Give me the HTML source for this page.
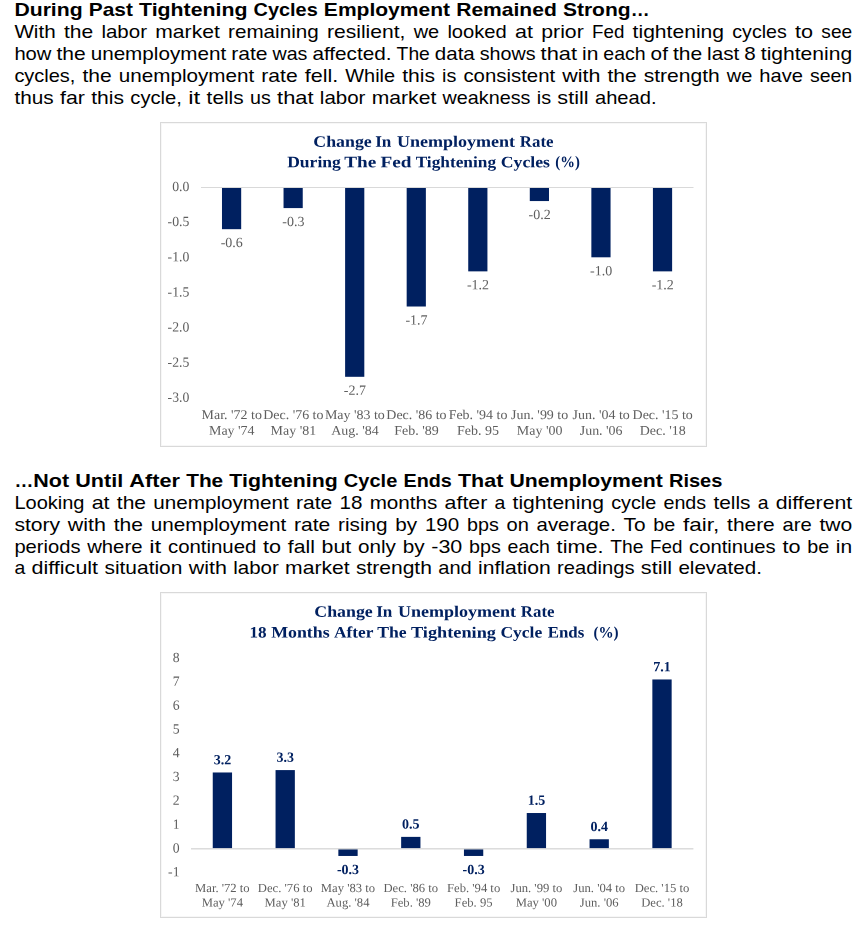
<!DOCTYPE html>
<html><head><meta charset="utf-8"><title>Unemployment and Fed tightening cycles</title>
<style>
html,body{margin:0;padding:0;background:#fff;}
body{width:868px;height:925px;overflow:hidden;font-family:"Liberation Sans",sans-serif;}
svg{display:block;position:absolute;left:0;top:0;}
#charts{will-change:transform;}
text{white-space:pre;}
.s,.sb{font-family:"Liberation Sans",sans-serif;}
.r,.rb{font-family:"Liberation Serif",serif;}
.sb,.rb{font-weight:bold;}
</style></head><body>
<svg width="868" height="925" viewBox="0 0 868 925">
<rect width="868" height="925" fill="#fff"/>
<text class="sb" x="14.40" y="16.30" font-size="18.5" fill="#000" textLength="68.26" lengthAdjust="spacingAndGlyphs">During</text>
<text class="sb" x="88.81" y="16.30" font-size="18.5" fill="#000" textLength="44.10" lengthAdjust="spacingAndGlyphs">Past</text>
<text class="sb" x="139.07" y="16.30" font-size="18.5" fill="#000" textLength="108.36" lengthAdjust="spacingAndGlyphs">Tightening</text>
<text class="sb" x="253.58" y="16.30" font-size="18.5" fill="#000" textLength="64.12" lengthAdjust="spacingAndGlyphs">Cycles</text>
<text class="sb" x="323.86" y="16.30" font-size="18.5" fill="#000" textLength="126.18" lengthAdjust="spacingAndGlyphs">Employment</text>
<text class="sb" x="456.19" y="16.30" font-size="18.5" fill="#000" textLength="100.60" lengthAdjust="spacingAndGlyphs">Remained</text>
<text class="sb" x="562.95" y="16.30" font-size="18.5" fill="#000" textLength="67.70" lengthAdjust="spacingAndGlyphs">Strong</text>
<text class="sb" x="630.65" y="16.30" font-size="18.5" fill="#000" textLength="18.86" lengthAdjust="spacingAndGlyphs">…</text>
<text class="s" x="14.40" y="38.30" font-size="18.5" fill="#000" textLength="41.22" lengthAdjust="spacingAndGlyphs">With</text>
<text class="s" x="63.92" y="38.30" font-size="18.5" fill="#000" textLength="29.21" lengthAdjust="spacingAndGlyphs">the</text>
<text class="s" x="101.43" y="38.30" font-size="18.5" fill="#000" textLength="45.58" lengthAdjust="spacingAndGlyphs">labor</text>
<text class="s" x="155.30" y="38.30" font-size="18.5" fill="#000" textLength="64.49" lengthAdjust="spacingAndGlyphs">market</text>
<text class="s" x="228.09" y="38.30" font-size="18.5" fill="#000" textLength="90.61" lengthAdjust="spacingAndGlyphs">remaining</text>
<text class="s" x="327.00" y="38.30" font-size="18.5" fill="#000" textLength="78.35" lengthAdjust="spacingAndGlyphs">resilient,</text>
<text class="s" x="413.65" y="38.30" font-size="18.5" fill="#000" textLength="25.45" lengthAdjust="spacingAndGlyphs">we</text>
<text class="s" x="447.40" y="38.30" font-size="18.5" fill="#000" textLength="59.38" lengthAdjust="spacingAndGlyphs">looked</text>
<text class="s" x="515.08" y="38.30" font-size="18.5" fill="#000" textLength="17.91" lengthAdjust="spacingAndGlyphs">at</text>
<text class="s" x="541.29" y="38.30" font-size="18.5" fill="#000" textLength="42.44" lengthAdjust="spacingAndGlyphs">prior</text>
<text class="s" x="592.03" y="38.30" font-size="18.5" fill="#000" textLength="32.29" lengthAdjust="spacingAndGlyphs">Fed</text>
<text class="s" x="632.62" y="38.30" font-size="18.5" fill="#000" textLength="91.39" lengthAdjust="spacingAndGlyphs">tightening</text>
<text class="s" x="732.30" y="38.30" font-size="18.5" fill="#000" textLength="54.45" lengthAdjust="spacingAndGlyphs">cycles</text>
<text class="s" x="795.05" y="38.30" font-size="18.5" fill="#000" textLength="18.02" lengthAdjust="spacingAndGlyphs">to</text>
<text class="s" x="821.37" y="38.30" font-size="18.5" fill="#000" textLength="30.83" lengthAdjust="spacingAndGlyphs">see</text>
<text class="s" x="14.40" y="60.00" font-size="18.5" fill="#000" textLength="37.04" lengthAdjust="spacingAndGlyphs">how</text>
<text class="s" x="56.45" y="60.00" font-size="18.5" fill="#000" textLength="29.21" lengthAdjust="spacingAndGlyphs">the</text>
<text class="s" x="90.67" y="60.00" font-size="18.5" fill="#000" textLength="135.49" lengthAdjust="spacingAndGlyphs">unemployment</text>
<text class="s" x="231.16" y="60.00" font-size="18.5" fill="#000" textLength="36.32" lengthAdjust="spacingAndGlyphs">rate</text>
<text class="s" x="272.50" y="60.00" font-size="18.5" fill="#000" textLength="34.92" lengthAdjust="spacingAndGlyphs">was</text>
<text class="s" x="312.42" y="60.00" font-size="18.5" fill="#000" textLength="79.18" lengthAdjust="spacingAndGlyphs">affected.</text>
<text class="s" x="396.61" y="60.00" font-size="18.5" fill="#000" textLength="33.21" lengthAdjust="spacingAndGlyphs">The</text>
<text class="s" x="434.83" y="60.00" font-size="18.5" fill="#000" textLength="39.94" lengthAdjust="spacingAndGlyphs">data</text>
<text class="s" x="479.78" y="60.00" font-size="18.5" fill="#000" textLength="55.80" lengthAdjust="spacingAndGlyphs">shows</text>
<text class="s" x="540.58" y="60.00" font-size="18.5" fill="#000" textLength="36.40" lengthAdjust="spacingAndGlyphs">that</text>
<text class="s" x="581.99" y="60.00" font-size="18.5" fill="#000" textLength="16.33" lengthAdjust="spacingAndGlyphs">in</text>
<text class="s" x="603.32" y="60.00" font-size="18.5" fill="#000" textLength="42.32" lengthAdjust="spacingAndGlyphs">each</text>
<text class="s" x="650.64" y="60.00" font-size="18.5" fill="#000" textLength="17.26" lengthAdjust="spacingAndGlyphs">of</text>
<text class="s" x="672.91" y="60.00" font-size="18.5" fill="#000" textLength="29.21" lengthAdjust="spacingAndGlyphs">the</text>
<text class="s" x="707.13" y="60.00" font-size="18.5" fill="#000" textLength="32.22" lengthAdjust="spacingAndGlyphs">last</text>
<text class="s" x="744.36" y="60.00" font-size="18.5" fill="#000" textLength="11.45" lengthAdjust="spacingAndGlyphs">8</text>
<text class="s" x="760.81" y="60.00" font-size="18.5" fill="#000" textLength="91.39" lengthAdjust="spacingAndGlyphs">tightening</text>
<text class="s" x="14.40" y="81.80" font-size="18.5" fill="#000" textLength="61.00" lengthAdjust="spacingAndGlyphs">cycles,</text>
<text class="s" x="82.48" y="81.80" font-size="18.5" fill="#000" textLength="29.21" lengthAdjust="spacingAndGlyphs">the</text>
<text class="s" x="118.77" y="81.80" font-size="18.5" fill="#000" textLength="135.49" lengthAdjust="spacingAndGlyphs">unemployment</text>
<text class="s" x="261.34" y="81.80" font-size="18.5" fill="#000" textLength="36.32" lengthAdjust="spacingAndGlyphs">rate</text>
<text class="s" x="304.74" y="81.80" font-size="18.5" fill="#000" textLength="33.48" lengthAdjust="spacingAndGlyphs">fell.</text>
<text class="s" x="345.30" y="81.80" font-size="18.5" fill="#000" textLength="49.79" lengthAdjust="spacingAndGlyphs">While</text>
<text class="s" x="402.16" y="81.80" font-size="18.5" fill="#000" textLength="32.80" lengthAdjust="spacingAndGlyphs">this</text>
<text class="s" x="442.04" y="81.80" font-size="18.5" fill="#000" textLength="14.31" lengthAdjust="spacingAndGlyphs">is</text>
<text class="s" x="463.43" y="81.80" font-size="18.5" fill="#000" textLength="91.69" lengthAdjust="spacingAndGlyphs">consistent</text>
<text class="s" x="562.20" y="81.80" font-size="18.5" fill="#000" textLength="38.14" lengthAdjust="spacingAndGlyphs">with</text>
<text class="s" x="607.42" y="81.80" font-size="18.5" fill="#000" textLength="29.21" lengthAdjust="spacingAndGlyphs">the</text>
<text class="s" x="643.71" y="81.80" font-size="18.5" fill="#000" textLength="75.98" lengthAdjust="spacingAndGlyphs">strength</text>
<text class="s" x="726.77" y="81.80" font-size="18.5" fill="#000" textLength="25.45" lengthAdjust="spacingAndGlyphs">we</text>
<text class="s" x="759.30" y="81.80" font-size="18.5" fill="#000" textLength="43.60" lengthAdjust="spacingAndGlyphs">have</text>
<text class="s" x="809.97" y="81.80" font-size="18.5" fill="#000" textLength="42.23" lengthAdjust="spacingAndGlyphs">seen</text>
<text class="s" x="14.40" y="103.50" font-size="18.5" fill="#000" textLength="39.26" lengthAdjust="spacingAndGlyphs">thus</text>
<text class="s" x="59.99" y="103.50" font-size="18.5" fill="#000" textLength="24.84" lengthAdjust="spacingAndGlyphs">far</text>
<text class="s" x="91.17" y="103.50" font-size="18.5" fill="#000" textLength="32.80" lengthAdjust="spacingAndGlyphs">this</text>
<text class="s" x="130.30" y="103.50" font-size="18.5" fill="#000" textLength="51.62" lengthAdjust="spacingAndGlyphs">cycle,</text>
<text class="s" x="188.26" y="103.50" font-size="18.5" fill="#000" textLength="12.02" lengthAdjust="spacingAndGlyphs">it</text>
<text class="s" x="206.62" y="103.50" font-size="18.5" fill="#000" textLength="37.06" lengthAdjust="spacingAndGlyphs">tells</text>
<text class="s" x="250.02" y="103.50" font-size="18.5" fill="#000" textLength="20.77" lengthAdjust="spacingAndGlyphs">us</text>
<text class="s" x="277.13" y="103.50" font-size="18.5" fill="#000" textLength="36.40" lengthAdjust="spacingAndGlyphs">that</text>
<text class="s" x="319.86" y="103.50" font-size="18.5" fill="#000" textLength="45.58" lengthAdjust="spacingAndGlyphs">labor</text>
<text class="s" x="371.77" y="103.50" font-size="18.5" fill="#000" textLength="64.49" lengthAdjust="spacingAndGlyphs">market</text>
<text class="s" x="442.60" y="103.50" font-size="18.5" fill="#000" textLength="87.80" lengthAdjust="spacingAndGlyphs">weakness</text>
<text class="s" x="536.74" y="103.50" font-size="18.5" fill="#000" textLength="14.31" lengthAdjust="spacingAndGlyphs">is</text>
<text class="s" x="557.39" y="103.50" font-size="18.5" fill="#000" textLength="31.27" lengthAdjust="spacingAndGlyphs">still</text>
<text class="s" x="594.99" y="103.50" font-size="18.5" fill="#000" textLength="61.52" lengthAdjust="spacingAndGlyphs">ahead.</text>
<text class="sb" x="14.40" y="486.80" font-size="18.5" fill="#000" textLength="18.86" lengthAdjust="spacingAndGlyphs">…</text>
<text class="sb" x="33.26" y="486.80" font-size="18.5" fill="#000" textLength="35.82" lengthAdjust="spacingAndGlyphs">Not</text>
<text class="sb" x="75.24" y="486.80" font-size="18.5" fill="#000" textLength="47.95" lengthAdjust="spacingAndGlyphs">Until</text>
<text class="sb" x="129.35" y="486.80" font-size="18.5" fill="#000" textLength="50.67" lengthAdjust="spacingAndGlyphs">After</text>
<text class="sb" x="186.17" y="486.80" font-size="18.5" fill="#000" textLength="37.04" lengthAdjust="spacingAndGlyphs">The</text>
<text class="sb" x="229.37" y="486.80" font-size="18.5" fill="#000" textLength="108.36" lengthAdjust="spacingAndGlyphs">Tightening</text>
<text class="sb" x="343.89" y="486.80" font-size="18.5" fill="#000" textLength="53.44" lengthAdjust="spacingAndGlyphs">Cycle</text>
<text class="sb" x="403.49" y="486.80" font-size="18.5" fill="#000" textLength="48.37" lengthAdjust="spacingAndGlyphs">Ends</text>
<text class="sb" x="458.01" y="486.80" font-size="18.5" fill="#000" textLength="45.32" lengthAdjust="spacingAndGlyphs">That</text>
<text class="sb" x="509.49" y="486.80" font-size="18.5" fill="#000" textLength="153.27" lengthAdjust="spacingAndGlyphs">Unemployment</text>
<text class="sb" x="668.92" y="486.80" font-size="18.5" fill="#000" textLength="53.53" lengthAdjust="spacingAndGlyphs">Rises</text>
<text class="s" x="14.40" y="509.00" font-size="18.5" fill="#000" textLength="70.07" lengthAdjust="spacingAndGlyphs">Looking</text>
<text class="s" x="91.70" y="509.00" font-size="18.5" fill="#000" textLength="17.91" lengthAdjust="spacingAndGlyphs">at</text>
<text class="s" x="116.84" y="509.00" font-size="18.5" fill="#000" textLength="29.21" lengthAdjust="spacingAndGlyphs">the</text>
<text class="s" x="153.29" y="509.00" font-size="18.5" fill="#000" textLength="135.49" lengthAdjust="spacingAndGlyphs">unemployment</text>
<text class="s" x="296.00" y="509.00" font-size="18.5" fill="#000" textLength="36.32" lengthAdjust="spacingAndGlyphs">rate</text>
<text class="s" x="339.56" y="509.00" font-size="18.5" fill="#000" textLength="22.90" lengthAdjust="spacingAndGlyphs">18</text>
<text class="s" x="369.68" y="509.00" font-size="18.5" fill="#000" textLength="67.70" lengthAdjust="spacingAndGlyphs">months</text>
<text class="s" x="444.61" y="509.00" font-size="18.5" fill="#000" textLength="42.66" lengthAdjust="spacingAndGlyphs">after</text>
<text class="s" x="494.50" y="509.00" font-size="18.5" fill="#000" textLength="10.82" lengthAdjust="spacingAndGlyphs">a</text>
<text class="s" x="512.55" y="509.00" font-size="18.5" fill="#000" textLength="91.39" lengthAdjust="spacingAndGlyphs">tightening</text>
<text class="s" x="611.17" y="509.00" font-size="18.5" fill="#000" textLength="45.07" lengthAdjust="spacingAndGlyphs">cycle</text>
<text class="s" x="663.47" y="509.00" font-size="18.5" fill="#000" textLength="42.71" lengthAdjust="spacingAndGlyphs">ends</text>
<text class="s" x="713.41" y="509.00" font-size="18.5" fill="#000" textLength="37.06" lengthAdjust="spacingAndGlyphs">tells</text>
<text class="s" x="757.71" y="509.00" font-size="18.5" fill="#000" textLength="10.82" lengthAdjust="spacingAndGlyphs">a</text>
<text class="s" x="775.75" y="509.00" font-size="18.5" fill="#000" textLength="76.45" lengthAdjust="spacingAndGlyphs">different</text>
<text class="s" x="14.40" y="530.80" font-size="18.5" fill="#000" textLength="45.74" lengthAdjust="spacingAndGlyphs">story</text>
<text class="s" x="67.88" y="530.80" font-size="18.5" fill="#000" textLength="38.14" lengthAdjust="spacingAndGlyphs">with</text>
<text class="s" x="113.77" y="530.80" font-size="18.5" fill="#000" textLength="29.21" lengthAdjust="spacingAndGlyphs">the</text>
<text class="s" x="150.73" y="530.80" font-size="18.5" fill="#000" textLength="135.49" lengthAdjust="spacingAndGlyphs">unemployment</text>
<text class="s" x="293.96" y="530.80" font-size="18.5" fill="#000" textLength="36.32" lengthAdjust="spacingAndGlyphs">rate</text>
<text class="s" x="338.03" y="530.80" font-size="18.5" fill="#000" textLength="49.54" lengthAdjust="spacingAndGlyphs">rising</text>
<text class="s" x="395.32" y="530.80" font-size="18.5" fill="#000" textLength="21.87" lengthAdjust="spacingAndGlyphs">by</text>
<text class="s" x="424.93" y="530.80" font-size="18.5" fill="#000" textLength="34.34" lengthAdjust="spacingAndGlyphs">190</text>
<text class="s" x="467.02" y="530.80" font-size="18.5" fill="#000" textLength="31.81" lengthAdjust="spacingAndGlyphs">bps</text>
<text class="s" x="506.58" y="530.80" font-size="18.5" fill="#000" textLength="22.32" lengthAdjust="spacingAndGlyphs">on</text>
<text class="s" x="536.64" y="530.80" font-size="18.5" fill="#000" textLength="79.20" lengthAdjust="spacingAndGlyphs">average.</text>
<text class="s" x="623.59" y="530.80" font-size="18.5" fill="#000" textLength="22.01" lengthAdjust="spacingAndGlyphs">To</text>
<text class="s" x="653.35" y="530.80" font-size="18.5" fill="#000" textLength="21.94" lengthAdjust="spacingAndGlyphs">be</text>
<text class="s" x="683.04" y="530.80" font-size="18.5" fill="#000" textLength="36.32" lengthAdjust="spacingAndGlyphs">fair,</text>
<text class="s" x="727.11" y="530.80" font-size="18.5" fill="#000" textLength="47.63" lengthAdjust="spacingAndGlyphs">there</text>
<text class="s" x="782.48" y="530.80" font-size="18.5" fill="#000" textLength="29.23" lengthAdjust="spacingAndGlyphs">are</text>
<text class="s" x="819.46" y="530.80" font-size="18.5" fill="#000" textLength="32.74" lengthAdjust="spacingAndGlyphs">two</text>
<text class="s" x="14.40" y="552.50" font-size="18.5" fill="#000" textLength="66.08" lengthAdjust="spacingAndGlyphs">periods</text>
<text class="s" x="87.20" y="552.50" font-size="18.5" fill="#000" textLength="55.26" lengthAdjust="spacingAndGlyphs">where</text>
<text class="s" x="149.19" y="552.50" font-size="18.5" fill="#000" textLength="12.02" lengthAdjust="spacingAndGlyphs">it</text>
<text class="s" x="167.94" y="552.50" font-size="18.5" fill="#000" textLength="88.45" lengthAdjust="spacingAndGlyphs">continued</text>
<text class="s" x="263.12" y="552.50" font-size="18.5" fill="#000" textLength="18.02" lengthAdjust="spacingAndGlyphs">to</text>
<text class="s" x="287.86" y="552.50" font-size="18.5" fill="#000" textLength="27.02" lengthAdjust="spacingAndGlyphs">fall</text>
<text class="s" x="321.60" y="552.50" font-size="18.5" fill="#000" textLength="29.70" lengthAdjust="spacingAndGlyphs">but</text>
<text class="s" x="358.03" y="552.50" font-size="18.5" fill="#000" textLength="37.91" lengthAdjust="spacingAndGlyphs">only</text>
<text class="s" x="402.66" y="552.50" font-size="18.5" fill="#000" textLength="21.87" lengthAdjust="spacingAndGlyphs">by</text>
<text class="s" x="431.26" y="552.50" font-size="18.5" fill="#000" textLength="31.07" lengthAdjust="spacingAndGlyphs">-30</text>
<text class="s" x="469.05" y="552.50" font-size="18.5" fill="#000" textLength="31.81" lengthAdjust="spacingAndGlyphs">bps</text>
<text class="s" x="507.58" y="552.50" font-size="18.5" fill="#000" textLength="42.32" lengthAdjust="spacingAndGlyphs">each</text>
<text class="s" x="556.63" y="552.50" font-size="18.5" fill="#000" textLength="46.82" lengthAdjust="spacingAndGlyphs">time.</text>
<text class="s" x="610.17" y="552.50" font-size="18.5" fill="#000" textLength="33.21" lengthAdjust="spacingAndGlyphs">The</text>
<text class="s" x="650.10" y="552.50" font-size="18.5" fill="#000" textLength="32.29" lengthAdjust="spacingAndGlyphs">Fed</text>
<text class="s" x="689.12" y="552.50" font-size="18.5" fill="#000" textLength="86.62" lengthAdjust="spacingAndGlyphs">continues</text>
<text class="s" x="782.46" y="552.50" font-size="18.5" fill="#000" textLength="18.02" lengthAdjust="spacingAndGlyphs">to</text>
<text class="s" x="807.21" y="552.50" font-size="18.5" fill="#000" textLength="21.94" lengthAdjust="spacingAndGlyphs">be</text>
<text class="s" x="835.87" y="552.50" font-size="18.5" fill="#000" textLength="16.33" lengthAdjust="spacingAndGlyphs">in</text>
<text class="s" x="14.40" y="574.30" font-size="18.5" fill="#000" textLength="10.82" lengthAdjust="spacingAndGlyphs">a</text>
<text class="s" x="31.55" y="574.30" font-size="18.5" fill="#000" textLength="66.55" lengthAdjust="spacingAndGlyphs">difficult</text>
<text class="s" x="104.44" y="574.30" font-size="18.5" fill="#000" textLength="77.96" lengthAdjust="spacingAndGlyphs">situation</text>
<text class="s" x="188.73" y="574.30" font-size="18.5" fill="#000" textLength="38.14" lengthAdjust="spacingAndGlyphs">with</text>
<text class="s" x="233.21" y="574.30" font-size="18.5" fill="#000" textLength="45.58" lengthAdjust="spacingAndGlyphs">labor</text>
<text class="s" x="285.12" y="574.30" font-size="18.5" fill="#000" textLength="64.49" lengthAdjust="spacingAndGlyphs">market</text>
<text class="s" x="355.95" y="574.30" font-size="18.5" fill="#000" textLength="75.98" lengthAdjust="spacingAndGlyphs">strength</text>
<text class="s" x="438.26" y="574.30" font-size="18.5" fill="#000" textLength="33.43" lengthAdjust="spacingAndGlyphs">and</text>
<text class="s" x="478.03" y="574.30" font-size="18.5" fill="#000" textLength="72.76" lengthAdjust="spacingAndGlyphs">inflation</text>
<text class="s" x="557.12" y="574.30" font-size="18.5" fill="#000" textLength="77.36" lengthAdjust="spacingAndGlyphs">readings</text>
<text class="s" x="640.82" y="574.30" font-size="18.5" fill="#000" textLength="31.27" lengthAdjust="spacingAndGlyphs">still</text>
<text class="s" x="678.42" y="574.30" font-size="18.5" fill="#000" textLength="83.45" lengthAdjust="spacingAndGlyphs">elevated.</text>
</svg>
<svg id="charts" width="868" height="925" viewBox="0 0 868 925">
<rect x="160.5" y="122.5" width="546" height="324" fill="#fff" stroke="#d9d9d9" stroke-width="1"/>
<rect x="161.5" y="123.5" width="544" height="322" fill="none" stroke="#f7f7f7" stroke-width="1"/>
<text class="rb" x="313.35" y="146.80" font-size="15.9" fill="#002060" transform="rotate(0.03 313.35 146.80)" textLength="58.40" lengthAdjust="spacingAndGlyphs">Change</text>
<text class="rb" x="375.15" y="146.80" font-size="15.9" fill="#002060" transform="rotate(0.03 375.15 146.80)" textLength="16.20" lengthAdjust="spacingAndGlyphs">In</text>
<text class="rb" x="396.95" y="146.80" font-size="15.9" fill="#002060" transform="rotate(0.03 396.95 146.80)" textLength="118.20" lengthAdjust="spacingAndGlyphs">Unemployment</text>
<text class="rb" x="519.85" y="146.80" font-size="15.9" fill="#002060" transform="rotate(0.03 519.85 146.80)" textLength="33.70" lengthAdjust="spacingAndGlyphs">Rate</text>
<text class="rb" x="287.15" y="167.20" font-size="15.9" fill="#002060" transform="rotate(0.03 287.15 167.20)" textLength="53.70" lengthAdjust="spacingAndGlyphs">During</text>
<text class="rb" x="344.25" y="167.20" font-size="15.9" fill="#002060" transform="rotate(0.03 344.25 167.20)" textLength="32.00" lengthAdjust="spacingAndGlyphs">The</text>
<text class="rb" x="380.55" y="167.20" font-size="15.9" fill="#002060" transform="rotate(0.03 380.55 167.20)" textLength="31.00" lengthAdjust="spacingAndGlyphs">Fed</text>
<text class="rb" x="415.65" y="167.20" font-size="15.9" fill="#002060" transform="rotate(0.03 415.65 167.20)" textLength="80.40" lengthAdjust="spacingAndGlyphs">Tightening</text>
<text class="rb" x="500.75" y="167.20" font-size="15.9" fill="#002060" transform="rotate(0.03 500.75 167.20)" textLength="49.20" lengthAdjust="spacingAndGlyphs">Cycles</text>
<text class="rb" x="555.30" y="167.20" font-size="15.9" fill="#002060" transform="rotate(0.03 555.30 167.20)" textLength="24.50" lengthAdjust="spacingAndGlyphs">(%)</text>
<rect x="201.00" y="187.00" width="492.50" height="1.00" fill="#d9d9d9"/>
<rect x="221.98" y="188.00" width="19.20" height="41.18" fill="#002060"/>
<text class="r" x="220.70" y="247.08" font-size="14" fill="#5e5e5e" transform="rotate(0.03 220.70 247.08)" textLength="22.16" lengthAdjust="spacingAndGlyphs">-0.6</text>
<text class="r" x="201.63" y="418.90" font-size="13.3" fill="#5e5e5e" transform="rotate(0.03 201.63 418.90)" textLength="60.31" lengthAdjust="spacingAndGlyphs">Mar. &#x27;72 to</text>
<text class="r" x="209.00" y="434.80" font-size="13.3" fill="#5e5e5e" transform="rotate(0.03 209.00 434.80)" textLength="45.57" lengthAdjust="spacingAndGlyphs">May &#x27;74</text>
<rect x="283.54" y="188.00" width="19.20" height="20.09" fill="#002060"/>
<text class="r" x="282.26" y="225.99" font-size="14" fill="#5e5e5e" transform="rotate(0.03 282.26 225.99)" textLength="22.16" lengthAdjust="spacingAndGlyphs">-0.3</text>
<text class="r" x="263.19" y="418.90" font-size="13.3" fill="#5e5e5e" transform="rotate(0.03 263.19 418.90)" textLength="60.30" lengthAdjust="spacingAndGlyphs">Dec. &#x27;76 to</text>
<text class="r" x="270.56" y="434.80" font-size="13.3" fill="#5e5e5e" transform="rotate(0.03 270.56 434.80)" textLength="45.57" lengthAdjust="spacingAndGlyphs">May &#x27;81</text>
<rect x="345.11" y="188.00" width="19.20" height="188.81" fill="#002060"/>
<text class="r" x="343.82" y="394.71" font-size="14" fill="#5e5e5e" transform="rotate(0.03 343.82 394.71)" textLength="22.16" lengthAdjust="spacingAndGlyphs">-2.7</text>
<text class="r" x="324.94" y="418.90" font-size="13.3" fill="#5e5e5e" transform="rotate(0.03 324.94 418.90)" textLength="59.92" lengthAdjust="spacingAndGlyphs">May &#x27;83 to</text>
<text class="r" x="331.15" y="434.80" font-size="13.3" fill="#5e5e5e" transform="rotate(0.03 331.15 434.80)" textLength="47.51" lengthAdjust="spacingAndGlyphs">Aug. &#x27;84</text>
<rect x="406.67" y="188.00" width="19.20" height="118.51" fill="#002060"/>
<text class="r" x="405.39" y="324.41" font-size="14" fill="#5e5e5e" transform="rotate(0.03 405.39 324.41)" textLength="22.16" lengthAdjust="spacingAndGlyphs">-1.7</text>
<text class="r" x="386.32" y="418.90" font-size="13.3" fill="#5e5e5e" transform="rotate(0.03 386.32 418.90)" textLength="60.30" lengthAdjust="spacingAndGlyphs">Dec. &#x27;86 to</text>
<text class="r" x="394.26" y="434.80" font-size="13.3" fill="#5e5e5e" transform="rotate(0.03 394.26 434.80)" textLength="44.41" lengthAdjust="spacingAndGlyphs">Feb. &#x27;89</text>
<rect x="468.23" y="188.00" width="19.20" height="83.36" fill="#002060"/>
<text class="r" x="466.95" y="289.26" font-size="14" fill="#5e5e5e" transform="rotate(0.03 466.95 289.26)" textLength="22.16" lengthAdjust="spacingAndGlyphs">-1.2</text>
<text class="r" x="448.65" y="418.90" font-size="13.3" fill="#5e5e5e" transform="rotate(0.03 448.65 418.90)" textLength="58.76" lengthAdjust="spacingAndGlyphs">Feb. &#x27;94 to</text>
<text class="r" x="457.08" y="434.80" font-size="13.3" fill="#5e5e5e" transform="rotate(0.03 457.08 434.80)" textLength="41.90" lengthAdjust="spacingAndGlyphs">Feb. 95</text>
<rect x="529.79" y="188.00" width="19.20" height="13.06" fill="#002060"/>
<text class="r" x="528.51" y="218.96" font-size="14" fill="#5e5e5e" transform="rotate(0.03 528.51 218.96)" textLength="22.16" lengthAdjust="spacingAndGlyphs">-0.2</text>
<text class="r" x="510.99" y="418.90" font-size="13.3" fill="#5e5e5e" transform="rotate(0.03 510.99 418.90)" textLength="57.22" lengthAdjust="spacingAndGlyphs">Jun. &#x27;99 to</text>
<text class="r" x="516.81" y="434.80" font-size="13.3" fill="#5e5e5e" transform="rotate(0.03 516.81 434.80)" textLength="45.57" lengthAdjust="spacingAndGlyphs">May &#x27;00</text>
<rect x="591.36" y="188.00" width="19.20" height="69.30" fill="#002060"/>
<text class="r" x="590.07" y="275.20" font-size="14" fill="#5e5e5e" transform="rotate(0.03 590.07 275.20)" textLength="22.16" lengthAdjust="spacingAndGlyphs">-1.0</text>
<text class="r" x="572.55" y="418.90" font-size="13.3" fill="#5e5e5e" transform="rotate(0.03 572.55 418.90)" textLength="57.22" lengthAdjust="spacingAndGlyphs">Jun. &#x27;04 to</text>
<text class="r" x="579.72" y="434.80" font-size="13.3" fill="#5e5e5e" transform="rotate(0.03 579.72 434.80)" textLength="42.86" lengthAdjust="spacingAndGlyphs">Jun. &#x27;06</text>
<rect x="652.92" y="188.00" width="19.20" height="83.36" fill="#002060"/>
<text class="r" x="651.64" y="289.26" font-size="14" fill="#5e5e5e" transform="rotate(0.03 651.64 289.26)" textLength="22.16" lengthAdjust="spacingAndGlyphs">-1.2</text>
<text class="r" x="632.57" y="418.90" font-size="13.3" fill="#5e5e5e" transform="rotate(0.03 632.57 418.90)" textLength="60.30" lengthAdjust="spacingAndGlyphs">Dec. &#x27;15 to</text>
<text class="r" x="639.75" y="434.80" font-size="13.3" fill="#5e5e5e" transform="rotate(0.03 639.75 434.80)" textLength="45.94" lengthAdjust="spacingAndGlyphs">Dec. &#x27;18</text>
<text class="r" x="172.15" y="190.95" font-size="14" fill="#5e5e5e" transform="rotate(0.03 172.15 190.95)" textLength="17.15" lengthAdjust="spacingAndGlyphs">0.0</text>
<text class="r" x="167.58" y="226.10" font-size="14" fill="#5e5e5e" transform="rotate(0.03 167.58 226.10)" textLength="21.72" lengthAdjust="spacingAndGlyphs">-0.5</text>
<text class="r" x="167.58" y="261.25" font-size="14" fill="#5e5e5e" transform="rotate(0.03 167.58 261.25)" textLength="21.72" lengthAdjust="spacingAndGlyphs">-1.0</text>
<text class="r" x="167.58" y="296.40" font-size="14" fill="#5e5e5e" transform="rotate(0.03 167.58 296.40)" textLength="21.72" lengthAdjust="spacingAndGlyphs">-1.5</text>
<text class="r" x="167.58" y="331.55" font-size="14" fill="#5e5e5e" transform="rotate(0.03 167.58 331.55)" textLength="21.72" lengthAdjust="spacingAndGlyphs">-2.0</text>
<text class="r" x="167.58" y="366.70" font-size="14" fill="#5e5e5e" transform="rotate(0.03 167.58 366.70)" textLength="21.72" lengthAdjust="spacingAndGlyphs">-2.5</text>
<text class="r" x="167.58" y="401.85" font-size="14" fill="#5e5e5e" transform="rotate(0.03 167.58 401.85)" textLength="21.72" lengthAdjust="spacingAndGlyphs">-3.0</text>
<rect x="160.5" y="592.5" width="546" height="325" fill="#fff" stroke="#d9d9d9" stroke-width="1"/>
<rect x="161.5" y="593.5" width="544" height="323" fill="none" stroke="#f7f7f7" stroke-width="1"/>
<text class="rb" x="314.35" y="616.80" font-size="15.9" fill="#002060" transform="rotate(0.03 314.35 616.80)" textLength="58.40" lengthAdjust="spacingAndGlyphs">Change</text>
<text class="rb" x="376.15" y="616.80" font-size="15.9" fill="#002060" transform="rotate(0.03 376.15 616.80)" textLength="16.20" lengthAdjust="spacingAndGlyphs">In</text>
<text class="rb" x="397.95" y="616.80" font-size="15.9" fill="#002060" transform="rotate(0.03 397.95 616.80)" textLength="118.20" lengthAdjust="spacingAndGlyphs">Unemployment</text>
<text class="rb" x="520.85" y="616.80" font-size="15.9" fill="#002060" transform="rotate(0.03 520.85 616.80)" textLength="33.70" lengthAdjust="spacingAndGlyphs">Rate</text>
<text class="rb" x="249.55" y="637.60" font-size="15.9" fill="#002060" transform="rotate(0.03 249.55 637.60)" textLength="17.10" lengthAdjust="spacingAndGlyphs">18</text>
<text class="rb" x="271.15" y="637.60" font-size="15.9" fill="#002060" transform="rotate(0.03 271.15 637.60)" textLength="58.50" lengthAdjust="spacingAndGlyphs">Months</text>
<text class="rb" x="334.05" y="637.60" font-size="15.9" fill="#002060" transform="rotate(0.03 334.05 637.60)" textLength="39.40" lengthAdjust="spacingAndGlyphs">After</text>
<text class="rb" x="377.25" y="637.60" font-size="15.9" fill="#002060" transform="rotate(0.03 377.25 637.60)" textLength="29.40" lengthAdjust="spacingAndGlyphs">The</text>
<text class="rb" x="410.95" y="637.60" font-size="15.9" fill="#002060" transform="rotate(0.03 410.95 637.60)" textLength="85.00" lengthAdjust="spacingAndGlyphs">Tightening</text>
<text class="rb" x="500.45" y="637.60" font-size="15.9" fill="#002060" transform="rotate(0.03 500.45 637.60)" textLength="41.80" lengthAdjust="spacingAndGlyphs">Cycle</text>
<text class="rb" x="547.65" y="637.60" font-size="15.9" fill="#002060" transform="rotate(0.03 547.65 637.60)" textLength="36.60" lengthAdjust="spacingAndGlyphs">Ends</text>
<text class="rb" x="593.40" y="637.60" font-size="15.9" fill="#002060" transform="rotate(0.03 593.40 637.60)" textLength="25.20" lengthAdjust="spacingAndGlyphs">(%)</text>
<rect x="212.75" y="772.48" width="19.30" height="76.32" fill="#002060"/>
<text class="rb" x="213.65" y="764.18" font-size="14" fill="#002060" transform="rotate(0.03 213.65 764.18)" textLength="17.50" lengthAdjust="spacingAndGlyphs">3.2</text>
<text class="r" x="195.09" y="891.90" font-size="12.4" fill="#5e5e5e" transform="rotate(0.03 195.09 891.90)" textLength="54.62" lengthAdjust="spacingAndGlyphs">Mar. &#x27;72 to</text>
<text class="r" x="201.76" y="906.50" font-size="12.4" fill="#5e5e5e" transform="rotate(0.03 201.76 906.50)" textLength="41.27" lengthAdjust="spacingAndGlyphs">May &#x27;74</text>
<rect x="275.55" y="770.09" width="19.30" height="78.70" fill="#002060"/>
<text class="rb" x="276.45" y="761.79" font-size="14" fill="#002060" transform="rotate(0.03 276.45 761.79)" textLength="17.50" lengthAdjust="spacingAndGlyphs">3.3</text>
<text class="r" x="257.89" y="891.90" font-size="12.4" fill="#5e5e5e" transform="rotate(0.03 257.89 891.90)" textLength="54.61" lengthAdjust="spacingAndGlyphs">Dec. &#x27;76 to</text>
<text class="r" x="264.56" y="906.50" font-size="12.4" fill="#5e5e5e" transform="rotate(0.03 264.56 906.50)" textLength="41.27" lengthAdjust="spacingAndGlyphs">May &#x27;81</text>
<rect x="338.35" y="848.80" width="19.30" height="7.16" fill="#002060"/>
<text class="rb" x="336.92" y="873.95" font-size="14" fill="#002060" transform="rotate(0.03 336.92 873.95)" textLength="22.16" lengthAdjust="spacingAndGlyphs">-0.3</text>
<text class="r" x="320.86" y="891.90" font-size="12.4" fill="#5e5e5e" transform="rotate(0.03 320.86 891.90)" textLength="54.27" lengthAdjust="spacingAndGlyphs">May &#x27;83 to</text>
<text class="r" x="326.48" y="906.50" font-size="12.4" fill="#5e5e5e" transform="rotate(0.03 326.48 906.50)" textLength="43.03" lengthAdjust="spacingAndGlyphs">Aug. &#x27;84</text>
<rect x="401.15" y="836.88" width="19.30" height="11.93" fill="#002060"/>
<text class="rb" x="402.05" y="828.58" font-size="14" fill="#002060" transform="rotate(0.03 402.05 828.58)" textLength="17.50" lengthAdjust="spacingAndGlyphs">0.5</text>
<text class="r" x="383.49" y="891.90" font-size="12.4" fill="#5e5e5e" transform="rotate(0.03 383.49 891.90)" textLength="54.61" lengthAdjust="spacingAndGlyphs">Dec. &#x27;86 to</text>
<text class="r" x="390.69" y="906.50" font-size="12.4" fill="#5e5e5e" transform="rotate(0.03 390.69 906.50)" textLength="40.22" lengthAdjust="spacingAndGlyphs">Feb. &#x27;89</text>
<rect x="463.95" y="848.80" width="19.30" height="7.16" fill="#002060"/>
<text class="rb" x="462.52" y="873.95" font-size="14" fill="#002060" transform="rotate(0.03 462.52 873.95)" textLength="22.16" lengthAdjust="spacingAndGlyphs">-0.3</text>
<text class="r" x="446.99" y="891.90" font-size="12.4" fill="#5e5e5e" transform="rotate(0.03 446.99 891.90)" textLength="53.22" lengthAdjust="spacingAndGlyphs">Feb. &#x27;94 to</text>
<text class="r" x="454.63" y="906.50" font-size="12.4" fill="#5e5e5e" transform="rotate(0.03 454.63 906.50)" textLength="37.94" lengthAdjust="spacingAndGlyphs">Feb. 95</text>
<rect x="526.75" y="813.02" width="19.30" height="35.78" fill="#002060"/>
<text class="rb" x="527.65" y="804.73" font-size="14" fill="#002060" transform="rotate(0.03 527.65 804.73)" textLength="17.50" lengthAdjust="spacingAndGlyphs">1.5</text>
<text class="r" x="510.49" y="891.90" font-size="12.4" fill="#5e5e5e" transform="rotate(0.03 510.49 891.90)" textLength="51.82" lengthAdjust="spacingAndGlyphs">Jun. &#x27;99 to</text>
<text class="r" x="515.76" y="906.50" font-size="12.4" fill="#5e5e5e" transform="rotate(0.03 515.76 906.50)" textLength="41.27" lengthAdjust="spacingAndGlyphs">May &#x27;00</text>
<rect x="589.55" y="839.26" width="19.30" height="9.54" fill="#002060"/>
<text class="rb" x="590.45" y="830.96" font-size="14" fill="#002060" transform="rotate(0.03 590.45 830.96)" textLength="17.50" lengthAdjust="spacingAndGlyphs">0.4</text>
<text class="r" x="573.29" y="891.90" font-size="12.4" fill="#5e5e5e" transform="rotate(0.03 573.29 891.90)" textLength="51.82" lengthAdjust="spacingAndGlyphs">Jun. &#x27;04 to</text>
<text class="r" x="579.79" y="906.50" font-size="12.4" fill="#5e5e5e" transform="rotate(0.03 579.79 906.50)" textLength="38.82" lengthAdjust="spacingAndGlyphs">Jun. &#x27;06</text>
<rect x="652.35" y="679.46" width="19.30" height="169.34" fill="#002060"/>
<text class="rb" x="653.25" y="671.16" font-size="14" fill="#002060" transform="rotate(0.03 653.25 671.16)" textLength="17.50" lengthAdjust="spacingAndGlyphs">7.1</text>
<text class="r" x="634.69" y="891.90" font-size="12.4" fill="#5e5e5e" transform="rotate(0.03 634.69 891.90)" textLength="54.61" lengthAdjust="spacingAndGlyphs">Dec. &#x27;15 to</text>
<text class="r" x="641.19" y="906.50" font-size="12.4" fill="#5e5e5e" transform="rotate(0.03 641.19 906.50)" textLength="41.61" lengthAdjust="spacingAndGlyphs">Dec. &#x27;18</text>
<rect x="191.00" y="848.10" width="502.40" height="1.40" fill="#d9d9d9"/>
<text class="r" x="172.64" y="662.05" font-size="14" fill="#5e5e5e" transform="rotate(0.03 172.64 662.05)" textLength="6.86" lengthAdjust="spacingAndGlyphs">8</text>
<text class="r" x="172.64" y="685.85" font-size="14" fill="#5e5e5e" transform="rotate(0.03 172.64 685.85)" textLength="6.86" lengthAdjust="spacingAndGlyphs">7</text>
<text class="r" x="172.64" y="709.65" font-size="14" fill="#5e5e5e" transform="rotate(0.03 172.64 709.65)" textLength="6.86" lengthAdjust="spacingAndGlyphs">6</text>
<text class="r" x="172.64" y="733.45" font-size="14" fill="#5e5e5e" transform="rotate(0.03 172.64 733.45)" textLength="6.86" lengthAdjust="spacingAndGlyphs">5</text>
<text class="r" x="172.64" y="757.25" font-size="14" fill="#5e5e5e" transform="rotate(0.03 172.64 757.25)" textLength="6.86" lengthAdjust="spacingAndGlyphs">4</text>
<text class="r" x="172.64" y="781.05" font-size="14" fill="#5e5e5e" transform="rotate(0.03 172.64 781.05)" textLength="6.86" lengthAdjust="spacingAndGlyphs">3</text>
<text class="r" x="172.64" y="804.85" font-size="14" fill="#5e5e5e" transform="rotate(0.03 172.64 804.85)" textLength="6.86" lengthAdjust="spacingAndGlyphs">2</text>
<text class="r" x="172.64" y="828.65" font-size="14" fill="#5e5e5e" transform="rotate(0.03 172.64 828.65)" textLength="6.86" lengthAdjust="spacingAndGlyphs">1</text>
<text class="r" x="172.64" y="852.45" font-size="14" fill="#5e5e5e" transform="rotate(0.03 172.64 852.45)" textLength="6.86" lengthAdjust="spacingAndGlyphs">0</text>
<text class="r" x="168.07" y="876.25" font-size="14" fill="#5e5e5e" transform="rotate(0.03 168.07 876.25)" textLength="11.43" lengthAdjust="spacingAndGlyphs">-1</text>
</svg>
</body></html>
